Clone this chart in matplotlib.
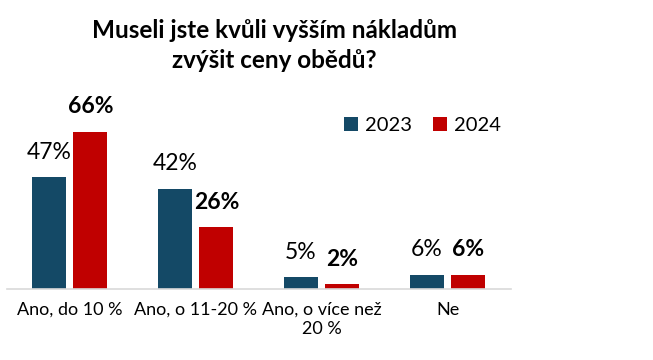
import numpy as np
import matplotlib.pyplot as plt

plt.rcParams['font.family'] = ['Lato', 'DejaVu Sans']

categories = ['Ano, do 10 %', 'Ano, o 11-20 %', 'Ano, o více než\n20 %', 'Ne']
years = ['2023', '2024']
v2023 = [47, 42, 5, 6]
v2024 = [66, 26, 2, 6]
title = 'Museli jste kvůli vyšším nákladům\nzvýšit ceny obědů?'

c2023 = '#144966'
c2024 = '#C00000'

fig = plt.figure(figsize=(6.53, 3.6), dpi=100)
ax = fig.add_axes([0.01, 0.197, 0.772, 0.463])

x = np.arange(len(categories))
w = 0.27
b1 = ax.bar(x - 0.165, v2023, w, color=c2023, label=years[0])
b2 = ax.bar(x + 0.165, v2024, w, color=c2024, label=years[1])

for rect, v in zip(b1, v2023):
    ax.annotate(f'{v}%', (rect.get_x() + rect.get_width() / 2, rect.get_height()),
                xytext=(0, 10.5), textcoords='offset points', ha='center', va='bottom',
                fontsize=16.5)
for rect, v in zip(b2, v2024):
    ax.annotate(f'{v}%', (rect.get_x() + rect.get_width() / 2, rect.get_height()),
                xytext=(0, 10.5), textcoords='offset points', ha='center', va='bottom',
                fontsize=16.5, fontweight='bold')

ax.set_xlim(-0.5, 3.5)
ax.set_ylim(0, 70)
ax.set_xticks(x)
ax.set_xticklabels(categories, fontsize=13, linespacing=1.3)
ax.tick_params(axis='x', length=0, pad=9)
ax.set_yticks([])
for s in ['top', 'right', 'left']:
    ax.spines[s].set_visible(False)
ax.spines['bottom'].set_color('#D9D9D9')
ax.spines['bottom'].set_linewidth(1.2)

fig.legend(loc='center', bbox_to_anchor=(0.647, 0.652), ncol=2, frameon=False,
           fontsize=14.5, handlelength=0.7, handleheight=0.7, handletextpad=0.35,
           columnspacing=1.0)

fig.text(0.42, 0.873, title, ha='center', va='center', fontsize=17.5,
         fontweight='bold', linespacing=1.35)

fig.savefig('out.png', dpi=100)
